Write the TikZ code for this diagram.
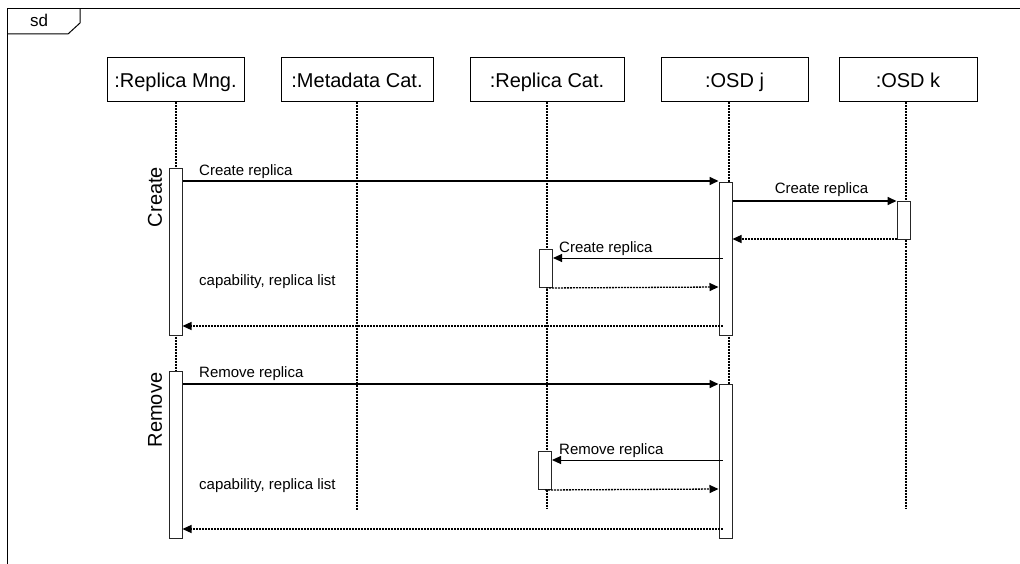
\documentclass[tikz,border=0pt]{standalone}
\usepackage{fontspec}
\setmainfont{Liberation Sans}
\usetikzlibrary{arrows.meta}

\tikzset{
  head/.style={draw=black, line width=1pt, fill=white, minimum height=44pt,
               inner sep=0pt, text height=20pt, text depth=4pt,
               font=\fontsize{20pt}{24pt}\selectfont},
  bar/.style={draw=black!85, line width=1pt, fill=white, minimum width=13pt,
              inner sep=0pt, anchor=north},
  lifeline/.style={line width=2pt, dash pattern=on 2pt off 1pt},
  call/.style={line width=1.6pt, -{Triangle[length=9pt,width=8pt]}},
  thincall/.style={line width=1pt, -{Triangle[length=9pt,width=8pt]}},
  reply/.style={line width=1.3pt, dash pattern=on 2pt off 1pt,
                -{Triangle[length=9pt,width=8pt]}},
  msglabel/.style={inner sep=0pt, font=\fontsize{15pt}{18pt}\selectfont},
  fragment/.style={inner sep=0pt, font=\fontsize{20pt}{24pt}\selectfont, rotate=90},
}

\begin{document}
\begin{tikzpicture}[x=1pt, y=-1pt]
\useasboundingbox (0,0) rectangle (1020,564);

% diagram frame with its name tab
\begin{scope}
  \clip (0,0) rectangle (1020,564);
  \draw[line width=1pt] (7,570) -- (7,9) -- (1030,9);
  \draw[line width=1pt] (7,34) -- (68,34) -- (80,23) -- (80,9);
\end{scope}
\node[inner sep=0pt, anchor=base, font=\fontsize{17pt}{20pt}\selectfont] (sd) at (39,27) {sd};

% lifeline heads
\node[head, minimum width=137pt] (rm) at (175.5,80) {:Replica Mng.};
\node[head, minimum width=152pt] (mc) at (357,80) {:Metadata Cat.};
\node[head, minimum width=154pt] (rc) at (547,80) {:Replica Cat.};
\node[head, minimum width=147pt] (oj) at (734.5,80) {:OSD j};
\node[head, minimum width=138pt] (ok) at (908,80) {:OSD k};

% lifeline ends
\coordinate (rmEnd) at (176,538);
\coordinate (mcEnd) at (357,510);
\coordinate (rcEnd) at (547,508);
\coordinate (ojEnd) at (729,538);
\coordinate (okEnd) at (906,509);

\draw[lifeline] (rm.south -| rmEnd) -- (rmEnd);
\draw[lifeline] (mc.south -| mcEnd) -- (mcEnd);
\draw[lifeline] (rc.south -| rcEnd) -- (rcEnd);
\draw[lifeline] (oj.south -| ojEnd) -- (ojEnd);
\draw[lifeline] (ok.south -| okEnd) -- (okEnd);

% activation bars
\node[bar, minimum height=167pt] (rm1) at (175.5,168) {};
\node[bar, minimum height=153pt] (oj1) at (725.5,182) {};
\node[bar, minimum height=38pt]  (ok1) at (903.5,201) {};
\node[bar, minimum height=38pt]  (rc1) at (546,249) {};
\node[bar, minimum height=167pt] (rm2) at (175.5,371) {};
\node[bar, minimum height=154pt] (oj2) at (725.5,384) {};
\node[bar, minimum height=38pt]  (rc2) at (545,451) {};

% fragment names
\node[fragment] (fcreate) at (155,197) {Create};
\node[fragment] (fremove) at (155,410) {Remove};

% message levels
\coordinate (m1) at (0,181);
\coordinate (m2) at (0,201);
\coordinate (m3) at (0,239);
\coordinate (m4) at (0,258);
\coordinate (m5) at (0,287);
\coordinate (m6) at (0,326);
\coordinate (n1) at (0,384);
\coordinate (n2) at (0,460);
\coordinate (n3) at (0,489);
\coordinate (n4) at (0,529);

% create replica
\draw[call] (rm1.east |- m1) -- (oj1.west |- m1);
\draw[call] (oj1.east |- m2) -- (ok1.west |- m2);
\draw[reply] (ok1.west |- m3) -- (oj1.east |- m3);
\draw[thincall] ([xshift=4pt]oj1.west |- m4) -- (rc1.east |- m4);
\draw[reply] (rc1.south) -- (oj1.west |- m5);
\draw[reply] ([xshift=4pt]oj1.west |- m6) -- (rm1.east |- m6);

\node[msglabel, anchor=base west] (l1) at (199,176) {Create replica};
\node[msglabel, anchor=base] (l2) at (821.5,194) {Create replica};
\node[msglabel, anchor=base west] (l3) at (559,252) {Create replica};
\node[msglabel, anchor=base west] (l4) at (199,285) {capability, replica list};

% remove replica
\draw[call] (rm2.east |- n1) -- (oj2.west |- n1);
\draw[thincall] ([xshift=4pt]oj2.west |- n2) -- (rc2.east |- n2);
\draw[reply] (rc2.south) -- (oj2.west |- n3);
\draw[reply] ([xshift=4pt]oj2.west |- n4) -- (rm2.east |- n4);

\node[msglabel, anchor=base west] (l5) at (199,377) {Remove replica};
\node[msglabel, anchor=base west] (l6) at (559,454) {Remove replica};
\node[msglabel, anchor=base west] (l7) at (199,489) {capability, replica list};
\end{tikzpicture}
\end{document}
